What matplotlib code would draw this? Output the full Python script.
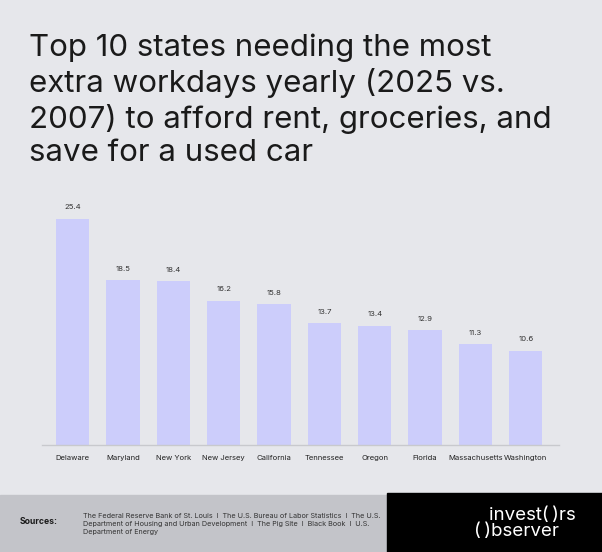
"""Top 10 states needing the most extra workdays yearly, as a bar chart."""

import matplotlib.pyplot as plt
from matplotlib.patches import Rectangle

states = ["Delaware", "Maryland", "New York", "New Jersey", "California",
          "Tennessee", "Oregon", "Florida", "Massachusetts", "Washington"]
extra_days = [25.4, 18.5, 18.4, 16.2, 15.8, 13.7, 13.4, 12.9, 11.3, 10.6]

title = ("Top 10 states needing the most\n"
         "extra workdays yearly (2025 vs.\n"
         "2007) to afford rent, groceries, and\n"
         "save for a used car")
sources = ("The Federal Reserve Bank of St. Louis  I  The U.S. Bureau of Labor Statistics  I  The U.S.\n"
           "Department of Housing and Urban Development  I  The Pig Site  I  Black Book  I  U.S.\n"
           "Department of Energy")

bg = "#e6e7eb"
bar_color = "#cccdfb"
text_dark = "#1a1a1a"
footer_grey = "#c3c4c9"

plt.rcParams["font.family"] = ["Inter", "DejaVu Sans"]

W, H = 602, 552
fig = plt.figure(figsize=(W / 100, H / 100), dpi=100)
fig.patch.set_facecolor(bg)

# axes placed in pixel terms
left, right, top, base = 42, 559, 200, 445
ax = fig.add_axes([left / W, 1 - base / H, (right - left) / W, (base - top) / H])
ax.set_facecolor(bg)

x = range(len(states))
rects = ax.bar(x, extra_days, width=0.66, color=bar_color)
ax.bar_label(rects, padding=6, fontsize=5.6, color="#333333")
ax.set_xlim(-0.61, 9.66)
ax.set_ylim(0, 27.5)
ax.set_xticks(list(x), states, fontsize=5.5, color="#222222")
ax.tick_params(axis="x", length=0, pad=7)
ax.set_yticks([])
for s in ["top", "right", "left"]:
    ax.spines[s].set_visible(False)
ax.spines["bottom"].set_color("#c8c9cd")
ax.spines["bottom"].set_linewidth(1)

fig.text(29 / W, 1 - 34 / H, title, fontsize=22.5, color=text_dark,
         va="top", ha="left", linespacing=1.23)

# footer
fig.add_artist(Rectangle((0, 0), 1, 1 - 495 / H, transform=fig.transFigure,
                         color=footer_grey, zorder=0))
fig.add_artist(Rectangle((387 / W, 0), 1 - 387 / W, 1 - 493 / H,
                         transform=fig.transFigure, color="black", zorder=1))
fig.text(20 / W, 1 - 522 / H, "Sources:", fontsize=6.2, fontweight="bold",
         color=text_dark, va="center", ha="left")
fig.text(83 / W, 1 - 524 / H, sources, fontsize=5.2, color="#333333",
         va="center", ha="left", linespacing=1.45)
fig.text(489 / W, 1 - 516 / H, "invest(\u2009)rs", fontsize=13.5, color="white",
         va="center", ha="left")
fig.text(474 / W, 1 - 532 / H, "(\u2009)bserver", fontsize=13.5, color="white",
         va="center", ha="left")

fig.savefig("out.png", dpi=100, facecolor=bg)
